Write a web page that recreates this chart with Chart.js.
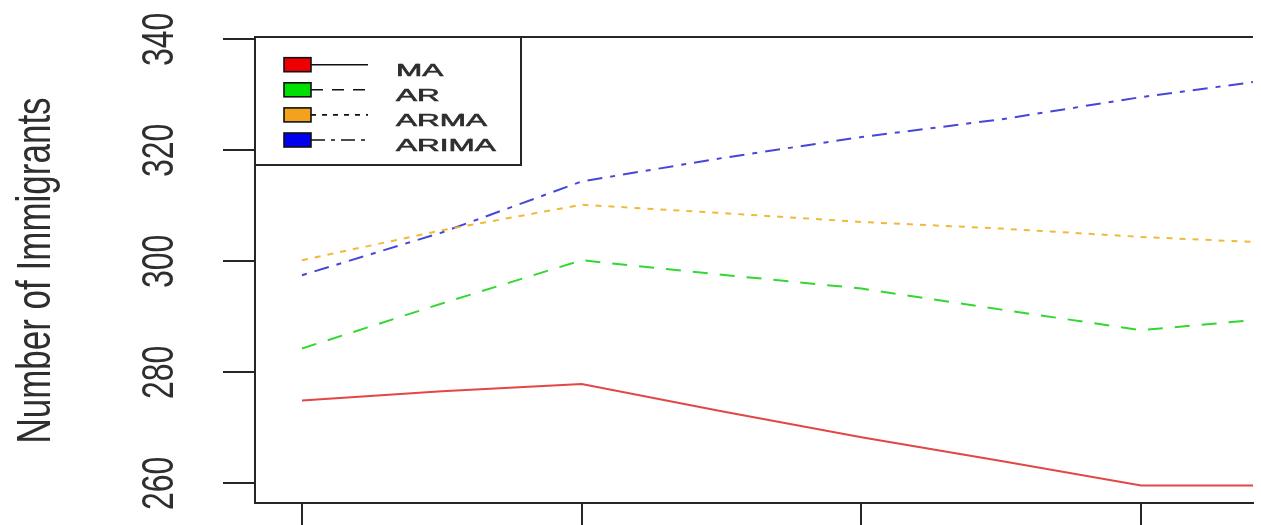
<!DOCTYPE html>
<html>
<head>
<meta charset="utf-8">
<title>Number of Immigrants forecasts</title>
<script src="https://cdn.jsdelivr.net/npm/chart.js@4/dist/chart.umd.min.js"></script>
<style>
  html, body { margin: 0; padding: 0; background: #ffffff; overflow: hidden; }
  #wrap { width: 1261px; height: 525px; }
</style>
</head>
<body>
<div id="wrap"><canvas id="chart" width="1261" height="525"></canvas></div>
<script>
// Forecast horizon positions (tick marks fall on whole steps)
const xValues = [1, 1.5, 2, 2.5, 3, 3.5, 4, 4.4];
const xTicks = [1, 2, 3, 4];

// Forecast values per model
const maValues    = [274.9, 276.6, 277.9, 273.0, 268.3, 264.0, 259.6, 259.6];
const arValues    = [284.3, 292.4, 300.2, 297.6, 295.1, 291.3, 287.6, 289.4];
const armaValues  = [300.2, 305.6, 310.2, 308.7, 307.1, 305.9, 304.4, 303.5];
const arimaValues = [297.5, 305.2, 314.4, 318.6, 322.4, 325.6, 329.6, 332.3];

const seriesNames = ['MA', 'AR', 'ARMA', 'ARIMA'];
const yTicks = [260, 280, 300, 320, 340];
const yTickLabels = ['260', '280', '300', '320', '340'];
const yTitle = 'Number of Immigrants';

const lineColors = ['rgb(228,70,70)', 'rgb(50,215,50)', 'rgb(240,185,60)', 'rgb(70,70,215)'];
const keyColors  = ['#ee0000', '#00e000', '#f2a21c', '#0000ee'];
const dashes     = [[], [15, 12], [6, 7], [5, 8, 15, 8]];
const keyDashes  = [[], [12, 9], [5, 6], [14, 6, 4, 6]];

const toPoints = vals => vals.map((v, i) => ({ x: xValues[i], y: v }));
const allSeries = [maValues, arValues, armaValues, arimaValues];

const ink = '#262626';

// Draws the top frame line, the key box and the rotated axis text
const framePlugin = {
  id: 'frame',
  afterDatasetsDraw(chart) {
    const ctx = chart.ctx;
    const area = chart.chartArea;
    ctx.save();
    ctx.strokeStyle = ink;
    ctx.lineWidth = 2;
    ctx.beginPath();
    ctx.moveTo(area.left - 1, area.top);
    ctx.lineTo(area.right, area.top);
    ctx.stroke();

    // key box
    const boxRight = 521, boxBottom = 165;
    ctx.fillStyle = '#ffffff';
    ctx.fillRect(area.left, area.top, boxRight - area.left, boxBottom - area.top);
    ctx.strokeStyle = ink;
    ctx.lineWidth = 2;
    ctx.strokeRect(area.left, area.top, boxRight - area.left, boxBottom - area.top);

    chart.data.datasets.forEach((ds, i) => {
      const cy = 64.7 + i * 25.1;
      // swatch
      ctx.fillStyle = keyColors[i];
      ctx.fillRect(284, cy - 7, 27, 14);
      ctx.lineWidth = 1.6;
      ctx.strokeStyle = '#111';
      ctx.setLineDash([]);
      ctx.strokeRect(284, cy - 7, 27, 14);
      // line sample
      ctx.beginPath();
      ctx.setLineDash(keyDashes[i]);
      ctx.moveTo(311, cy);
      ctx.lineTo(368, cy);
      ctx.stroke();
      ctx.setLineDash([]);
      // label
      ctx.save();
      ctx.translate(396, cy + 11);
      ctx.scale(1.82, 1);
      ctx.font = '17.3px "Liberation Sans", Arial, sans-serif';
      ctx.fillStyle = '#2e2e2e';
      ctx.strokeStyle = '#2e2e2e';
      ctx.lineWidth = 0.6;
      ctx.textAlign = 'left';
      ctx.textBaseline = 'alphabetic';
      ctx.fillText(ds.label, 0, 0);
      ctx.strokeText(ds.label, 0, 0);
      ctx.restore();
    });

    // rotated y tick labels
    const yScale = chart.scales.y;
    yScale.ticks.forEach((t, i) => {
      const py = yScale.getPixelForValue(t.value);
      ctx.save();
      ctx.translate(173, py);
      ctx.rotate(-Math.PI / 2);
      ctx.scale(1, 1.36);
      ctx.font = '32px "Liberation Sans", Arial, sans-serif';
      ctx.fillStyle = '#2e2e2e';
      ctx.textAlign = 'center';
      ctx.textBaseline = 'alphabetic';
      ctx.fillText(yTickLabels[i], 0, 0);
      ctx.restore();
    });

    // y axis title
    ctx.save();
    ctx.translate(50, (yScale.top + yScale.bottom) / 2 + 0.5);
    ctx.rotate(-Math.PI / 2);
    ctx.scale(1, 1.4);
    ctx.font = '35px "Liberation Sans", Arial, sans-serif';
    ctx.fillStyle = '#2e2e2e';
    ctx.textAlign = 'center';
    ctx.textBaseline = 'alphabetic';
    ctx.fillText(yTitle, 0, 0);
    ctx.restore();

    ctx.restore();
  }
};

new Chart(document.getElementById('chart'), {
  type: 'line',
  data: {
    datasets: seriesNames.map((name, i) => ({
      label: name,
      data: toPoints(allSeries[i]),
      borderColor: lineColors[i],
      borderWidth: 2,
      borderDash: dashes[i],
      pointRadius: 0,
      tension: 0,
      fill: false
    }))
  },
  options: {
    responsive: false,
    animation: false,
    layout: { padding: { top: 37, right: 8, left: 0, bottom: 0 } },
    plugins: { legend: { display: false }, tooltip: { enabled: false } },
    scales: {
      x: {
        type: 'linear',
        min: 0.832,
        max: 4.4,
        afterBuildTicks(s) { s.ticks = xTicks.map(v => ({ value: v })); },
        afterFit(s) { s.height = 22; },
        ticks: { display: false },
        grid: { drawOnChartArea: false, drawTicks: true, tickLength: 22, color: ink, lineWidth: 2 },
        border: { display: true, color: ink, width: 2 }
      },
      y: {
        type: 'linear',
        min: 256.45,
        max: 340.43,
        afterBuildTicks(s) { s.ticks = yTicks.map(v => ({ value: v })); },
        afterFit(s) { s.width = 255; },
        ticks: { display: false },
        grid: { drawOnChartArea: false, drawTicks: true, tickLength: 32, color: ink, lineWidth: 2 },
        border: { display: true, color: ink, width: 2 }
      }
    }
  },
  plugins: [framePlugin]
});
</script>
</body>
</html>
